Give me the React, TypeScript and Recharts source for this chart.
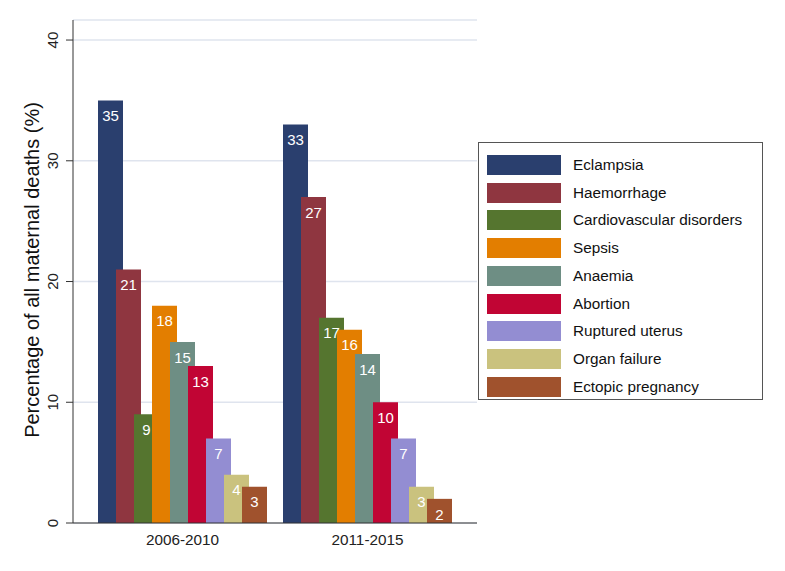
import React from 'react';
import { BarChart, Bar, XAxis, YAxis, CartesianGrid, LabelList } from 'recharts';

const periods = ['2006-2010', '2011-2015'];

const causes = [
  'Eclampsia',
  'Haemorrhage',
  'Cardiovascular disorders',
  'Sepsis',
  'Anaemia',
  'Abortion',
  'Ruptured uterus',
  'Organ failure',
  'Ectopic pregnancy',
];

const eclampsia = [35, 33];
const haemorrhage = [21, 27];
const cardiovascular = [9, 17];
const sepsis = [18, 16];
const anaemia = [15, 14];
const abortion = [13, 10];
const rupturedUterus = [7, 7];
const organFailure = [4, 3];
const ectopic = [3, 2];

const yTicks = [0, 10, 20, 30, 40];

const colors = ['#2a3f6e', '#8f3640', '#55752f', '#e37e00', '#6e8e84', '#c10534', '#938dd2', '#cac27e', '#a0522d'];

const seriesValues = [eclampsia, haemorrhage, cardiovascular, sepsis, anaemia, abortion, rupturedUterus, organFailure, ectopic];

const data = periods.map((p, i) => {
  const row: Record<string, string | number> = { period: p };
  causes.forEach((c, k) => {
    row[c] = seriesValues[k][i];
  });
  return row;
});

const FONT = '"Liberation Sans", Arial, sans-serif';

const YTick = (props: any) => {
  const { x, y, payload } = props;
  return (
    <text
      x={x}
      y={y}
      transform={`rotate(-90 ${x} ${y})`}
      textAnchor="middle"
      fontSize={15}
      fill="#222"
      fontFamily={FONT}
    >
      {payload.value}
    </text>
  );
};

const YTitle = () => (
  <text
    x={31}
    y={262}
    transform="rotate(-90 31 262)"
    textAnchor="middle"
    fontSize={20}
    fill="#111"
    fontFamily={FONT}
  >
    Percentage of all maternal deaths (%)
  </text>
);

const LegendBox = () => (
  <div
    style={{
      position: 'absolute',
      left: 470,
      top: 134,
      boxSizing: 'border-box',
      width: 285,
      height: 258,
      border: '1px solid #555',
      background: '#fff',
      paddingTop: 8,
      paddingLeft: 8,
      fontFamily: FONT,
    }}
  >
    {causes.map((c, i) => (
      <div key={c} style={{ display: 'flex', alignItems: 'center', height: 27.75 }}>
        <div style={{ width: 74, height: 20, background: colors[i] }} />
        <span style={{ marginLeft: 12, fontSize: 15.3, color: '#111' }}>{c}</span>
      </div>
    ))}
  </div>
);

export default function App() {
  return (
    <div style={{ position: 'relative', width: 769, height: 555, background: '#fff' }}>
      <BarChart
        width={769}
        height={555}
        data={data}
        margin={{ top: 12, right: 300, bottom: 0, left: 0 }}
        barSize={25}
        barGap={-7}
        style={{ fontFamily: FONT }}
      >
        <CartesianGrid horizontal vertical={false} stroke="#dfe4ee" strokeWidth={1.5} />
        <XAxis
          dataKey="period"
          height={40}
          padding={{ left: 17, right: 17 }}
          tickLine={false}
          tickSize={0}
          tickMargin={11}
          axisLine={{ stroke: '#333' }}
          tick={{ fontSize: 15.3, fill: '#222', fontFamily: FONT }}
        />
        <YAxis
          width={65}
          domain={[0, 41.66]}
          ticks={yTicks}
          allowDataOverflow
          tickSize={7}
          tickMargin={8}
          axisLine={{ stroke: '#333' }}
          tickLine={{ stroke: '#333' }}
          tick={<YTick />}
          label={{ content: <YTitle /> }}
        />
        {causes.map((c, i) => (
          <Bar key={c} dataKey={c} fill={colors[i]} isAnimationActive={false}>
            <LabelList
              dataKey={c}
              position="insideTop"
              offset={10}
              fill="#fff"
              fontSize={15}
              fontFamily={FONT}
            />
          </Bar>
        ))}
      </BarChart>
      <LegendBox />
    </div>
  );
}
